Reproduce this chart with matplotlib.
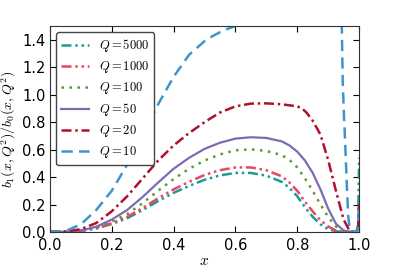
import matplotlib
matplotlib.use("Agg")
import matplotlib.pyplot as plt

plt.rcParams['mathtext.fontset'] = 'cm'
plt.rcParams['font.family'] = ['DejaVu Sans']

labels = ["$Q=5000$", "$Q=1000$", "$Q=100$", "$Q=50$", "$Q=20$", "$Q=10$"]

x_q5000 = [0, 0.05, 0.1, 0.15, 0.2, 0.25, 0.3, 0.35, 0.4, 0.45, 0.5, 0.55, 0.6, 0.65, 0.7, 0.75, 0.775, 0.8, 0.825, 0.85, 0.875, 0.9, 0.925, 0.95, 0.99, 0.997, 1.0]
y_q5000 = [0, 0.001, 0.007, 0.025, 0.058, 0.1, 0.16, 0.225, 0.285, 0.335, 0.38, 0.412, 0.43, 0.43, 0.41, 0.365, 0.32, 0.26, 0.18, 0.11, 0.055, 0.02, 0.005, 0.0, 0.0, 0.05, 0.54]

x_q1000 = [0, 0.05, 0.1, 0.15, 0.2, 0.25, 0.3, 0.35, 0.4, 0.45, 0.5, 0.55, 0.6, 0.65, 0.7, 0.75, 0.775, 0.8, 0.825, 0.85, 0.875, 0.9, 0.925, 0.95, 0.99, 0.997, 1.0]
y_q1000 = [0, 0.001, 0.008, 0.028, 0.064, 0.11, 0.175, 0.245, 0.31, 0.365, 0.415, 0.45, 0.47, 0.47, 0.45, 0.405, 0.36, 0.3, 0.22, 0.15, 0.085, 0.04, 0.01, 0.0, 0.0, 0.02, 0.2]

x_q100 = [0, 0.05, 0.1, 0.15, 0.2, 0.25, 0.3, 0.35, 0.4, 0.45, 0.5, 0.55, 0.6, 0.65, 0.7, 0.75, 0.775, 0.8, 0.825, 0.85, 0.875, 0.9, 0.925, 0.95, 0.975, 0.99, 0.997, 1.0]
y_q100 = [0, 0.001, 0.009, 0.032, 0.075, 0.13, 0.21, 0.3, 0.385, 0.46, 0.52, 0.565, 0.595, 0.602, 0.59, 0.56, 0.525, 0.47, 0.39, 0.3, 0.2, 0.11, 0.04, 0.008, 0.0, 0.0, 0.02, 0.2]

x_q50 = [0, 0.05, 0.1, 0.15, 0.2, 0.25, 0.3, 0.35, 0.4, 0.45, 0.5, 0.55, 0.6, 0.65, 0.7, 0.75, 0.775, 0.8, 0.825, 0.85, 0.875, 0.9, 0.925, 0.95, 0.975, 0.99, 0.997, 1.0]
y_q50 = [0, 0.001, 0.01, 0.038, 0.09, 0.16, 0.255, 0.36, 0.46, 0.54, 0.605, 0.65, 0.68, 0.69, 0.685, 0.66, 0.63, 0.585, 0.52, 0.43, 0.31, 0.17, 0.06, 0.01, 0.0, 0.0, 0.02, 0.2]

x_q20 = [0, 0.05, 0.1, 0.15, 0.2, 0.25, 0.3, 0.35, 0.4, 0.45, 0.5, 0.55, 0.6, 0.65, 0.7, 0.75, 0.8, 0.815, 0.83, 0.85, 0.875, 0.9, 0.925, 0.95, 0.97, 0.99, 0.997, 1.0]
y_q20 = [0, 0.002, 0.02, 0.065, 0.15, 0.26, 0.39, 0.52, 0.63, 0.72, 0.8, 0.87, 0.915, 0.935, 0.937, 0.93, 0.915, 0.9, 0.87, 0.81, 0.71, 0.524, 0.3, 0.09, 0.005, 0.0, 0.02, 0.2]

x_q10 = [0, 0.05, 0.1, 0.15, 0.2, 0.25, 0.3, 0.35, 0.4, 0.45, 0.5, 0.525, 0.55, 0.575, 0.6, 0.65, 0.8, 0.94, 0.944, 0.947, 0.951, 0.955, 0.96, 0.965, 0.97, 0.975, 0.99, 0.997, 1.0]
y_q10 = [0, 0.005, 0.055, 0.16, 0.3, 0.49, 0.7, 0.93, 1.13, 1.29, 1.39, 1.425, 1.455, 1.48, 1.5, 1.56, 1.8, 1.6, 1.5, 1.1, 0.85, 0.65, 0.355, 0.11, 0.01, 0.0, 0.0, 0.02, 0.2]

colors = ['#1a9a9a', '#e8475f', '#5a9a32', '#7b6bb5', '#b0102c', '#3b95cf']

fig = plt.figure(figsize=(3.99, 2.66), dpi=100)
ax = fig.add_axes([0.125, 0.128, 0.775, 0.774])

ax.plot(x_q5000, y_q5000, color=colors[0], lw=1.8, dashes=[4, 1.5, 1, 1.5, 1, 1.5], label=labels[0])
ax.plot(x_q1000, y_q1000, color=colors[1], lw=1.8, dashes=[4, 1.5, 1, 1.5, 1, 1.5], label=labels[1])
ax.plot(x_q100, y_q100, color=colors[2], lw=1.8, dashes=[1, 2.2], label=labels[2])
ax.plot(x_q50, y_q50, color=colors[3], lw=1.6, ls='-', label=labels[3])
ax.plot(x_q20, y_q20, color=colors[4], lw=1.8, dashes=[4, 1.5, 1, 1.5], label=labels[4])
ax.plot(x_q10, y_q10, color=colors[5], lw=1.8, dashes=[4.5, 2.5], label=labels[5])

ax.set_xlim(0, 1)
ax.set_ylim(0, 1.5)
ax.set_xticks([0, 0.2, 0.4, 0.6, 0.8, 1.0])
ax.set_yticks([0, 0.2, 0.4, 0.6, 0.8, 1.0, 1.2, 1.4])
ax.tick_params(direction='in', top=True, right=True, labelsize=10.5, length=4)
ax.tick_params(axis='x', pad=4)
ax.tick_params(axis='y', pad=3)
for s in ax.spines.values():
    s.set_color('#333333')
ax.set_xlabel('$x$', fontsize=11, labelpad=0)
ax.set_ylabel('$b_1(x,Q^2)/b_0(x,Q^2)$', fontsize=10, labelpad=3)

leg = ax.legend(loc='upper left', fontsize=9, handlelength=2.2, labelspacing=0.4,
                fancybox=True, framealpha=1, edgecolor='#444444', borderaxespad=0.5)

fig.savefig('out.png', dpi=100)
